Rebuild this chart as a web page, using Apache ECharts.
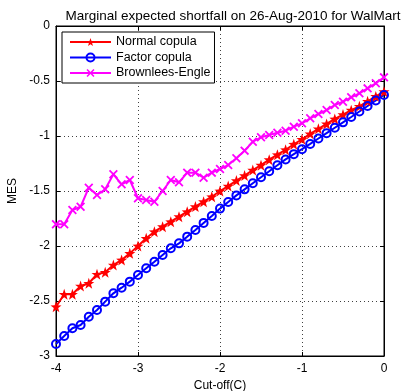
<!DOCTYPE html>
<html>
<head>
<meta charset="utf-8">
<script src="https://cdn.jsdelivr.net/npm/echarts@6/dist/echarts.min.js"></script>
<style>
  html, body { margin: 0; padding: 0; background: #fff; }
  #chart { width: 403px; height: 391px; }
</style>
</head>
<body>
<div id="chart"></div>
<script>
// Cut-off levels C
const cutoff = [-4.0, -3.9, -3.8, -3.7, -3.6, -3.5, -3.4, -3.3, -3.2, -3.1,
  -3.0, -2.9, -2.8, -2.7, -2.6, -2.5, -2.4, -2.3, -2.2, -2.1,
  -2.0, -1.9, -1.8, -1.7, -1.6, -1.5, -1.4, -1.3, -1.2, -1.1,
  -1.0, -0.9, -0.8, -0.7, -0.6, -0.5, -0.4, -0.3, -0.2, -0.1, 0.0];

// MES under the normal copula
const normalCopula = [-2.552, -2.439, -2.439, -2.364, -2.339, -2.257, -2.239, -2.173, -2.127, -2.067,
  -2.000, -1.930, -1.870, -1.824, -1.779, -1.733, -1.688, -1.642, -1.597, -1.552,
  -1.500, -1.455, -1.405, -1.360, -1.310, -1.265, -1.215, -1.170, -1.125, -1.075,
  -1.030, -0.980, -0.935, -0.890, -0.845, -0.805, -0.765, -0.730, -0.685, -0.640, -0.597];

// MES under the factor copula
const factorCopula = [-2.891, -2.818, -2.748, -2.718, -2.643, -2.582, -2.506, -2.430, -2.379, -2.324,
  -2.264, -2.203, -2.143, -2.082, -2.021, -1.976, -1.915, -1.855, -1.790, -1.727,
  -1.660, -1.600, -1.540, -1.485, -1.430, -1.375, -1.320, -1.266, -1.213, -1.165,
  -1.120, -1.072, -1.023, -0.974, -0.925, -0.876, -0.827, -0.777, -0.727, -0.677, -0.627];

// Brownlees-Engle estimate
const brownleesEngle = [-1.803, -1.803, -1.673, -1.643, -1.470, -1.536, -1.485, -1.348, -1.439, -1.400,
  -1.566, -1.582, -1.597, -1.500, -1.400, -1.421, -1.333, -1.333, -1.379, -1.333,
  -1.300, -1.264, -1.203, -1.133, -1.052, -1.012, -0.991, -0.970, -0.952, -0.915,
  -0.885, -0.839, -0.800, -0.764, -0.718, -0.688, -0.648, -0.612, -0.567, -0.521, -0.467];

const seriesNames = ['Normal copula', 'Factor copula', 'Brownlees-Engle'];
const xTicks = { min: -4, max: 0, interval: 1 };
const yTicks = { min: -3, max: 0, interval: 0.5 };

const FONT = 'Liberation Sans, Arial, sans-serif';

// Marker shapes: five-point star and a thick "x"
const STAR = 'path://M0,-10 L2.35,-3.24 L9.51,-3.09 L3.8,1.24 L5.88,8.09 L0,4 L-5.88,8.09 L-3.8,1.24 L-9.51,-3.09 L-2.35,-3.24 Z';
const CROSS = 'path://M-5,-3.6 L-3.6,-5 L0,-1.4 L3.6,-5 L5,-3.6 L1.4,0 L5,3.6 L3.6,5 L0,1.4 L-3.6,5 L-5,3.6 L-1.4,0 Z';

function pairs(ys) {
  return cutoff.map((x, i) => [x, ys[i]]);
}

const chart = echarts.init(document.getElementById('chart'), null, { renderer: 'canvas' });

const gridLine = { show: true, lineStyle: { color: '#404040', type: [1, 3], width: 1 } };
const tickIn = { show: true, inside: true, length: 4, lineStyle: { color: '#000' } };

chart.setOption({
  animation: false,
  backgroundColor: '#fff',
  title: {
    text: 'Marginal expected shortfall on 26-Aug-2010 for WalMart',
    left: 228, textAlign: 'center', top: 4,
    textStyle: { fontFamily: FONT, fontSize: 13.5, fontWeight: 'normal', color: '#000' }
  },
  legend: {
    orient: 'vertical',
    left: 62, top: 32,
    data: seriesNames,
    backgroundColor: '#fff',
    borderColor: '#000', borderWidth: 1,
    padding: [3, 4, 3, 7],
    itemWidth: 41, itemHeight: 10, itemGap: 1.5, itemTextGap: 4,
    textStyle: { fontFamily: FONT, fontSize: 12.5, color: '#000', lineHeight: 14 }
  },
  grid: {
    left: 56, right: 19, top: 26, bottom: 35,
    outerBoundsMode: 'none',
    show: true, borderColor: '#000', borderWidth: 1, backgroundColor: 'transparent'
  },
  xAxis: [{
    type: 'value', min: xTicks.min, max: xTicks.max, interval: xTicks.interval,
    name: 'Cut-off(C)', nameLocation: 'middle', nameGap: 21,
    nameTextStyle: { fontFamily: FONT, fontSize: 12, color: '#000' },
    axisLine: { show: true, onZero: false, lineStyle: { color: '#000' } },
    axisTick: tickIn,
    axisLabel: { fontFamily: FONT, fontSize: 12, color: '#000', margin: 7 },
    splitLine: gridLine
  }, {
    type: 'value', position: 'top', min: xTicks.min, max: xTicks.max, interval: xTicks.interval,
    axisLine: { show: true, lineStyle: { color: '#000' } },
    axisTick: tickIn, axisLabel: { show: false }, splitLine: { show: false }
  }],
  yAxis: [{
    type: 'value', min: yTicks.min, max: yTicks.max, interval: yTicks.interval,
    name: 'MES', nameLocation: 'middle', nameGap: 36,
    nameTextStyle: { fontFamily: FONT, fontSize: 12, color: '#000' },
    axisLine: { show: true, onZero: false, lineStyle: { color: '#000' } },
    axisTick: tickIn,
    axisLabel: { fontFamily: FONT, fontSize: 12, color: '#000', margin: 6 },
    splitLine: gridLine
  }, {
    type: 'value', position: 'right', min: yTicks.min, max: yTicks.max, interval: yTicks.interval,
    axisLine: { show: true, lineStyle: { color: '#000' } },
    axisTick: tickIn, axisLabel: { show: false }, splitLine: { show: false }
  }],
  series: [{
    name: seriesNames[0], type: 'line', data: pairs(normalCopula),
    symbol: STAR, symbolSize: 11,
    lineStyle: { color: '#ff0000', width: 2 },
    itemStyle: { color: '#ff0000' }
  }, {
    name: seriesNames[1], type: 'line', data: pairs(factorCopula),
    symbol: 'circle', symbolSize: 8,
    lineStyle: { color: '#0000ff', width: 2 },
    itemStyle: { color: 'rgba(0,0,0,0)', borderColor: '#0000ff', borderWidth: 2 }
  }, {
    name: seriesNames[2], type: 'line', data: pairs(brownleesEngle),
    symbol: CROSS, symbolSize: 9,
    lineStyle: { color: '#ff00ff', width: 2 },
    itemStyle: { color: '#ff00ff' }
  }]
});
</script>
</body>
</html>
